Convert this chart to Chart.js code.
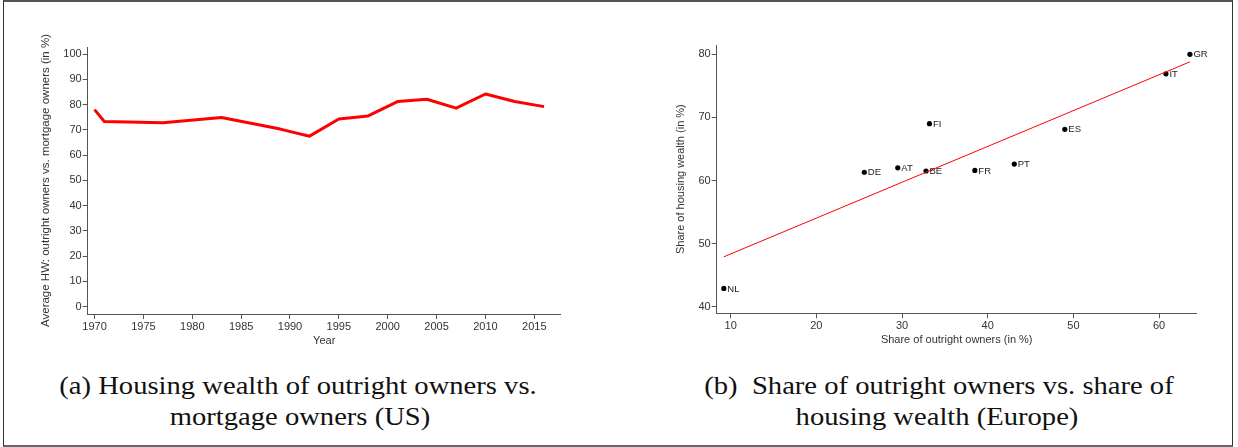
<!DOCTYPE html>
<html>
<head>
<meta charset="utf-8">
<script src="https://cdn.jsdelivr.net/npm/chart.js@4.4.1/dist/chart.umd.min.js"></script>
<style>
  html, body { margin: 0; padding: 0; background: #fff; }
  body { width: 1238px; height: 447px; position: relative; overflow: hidden; }
  #frame { position: absolute; left: 3px; top: 0; width: 1228px; height: 443px;
           border: 1px solid #333; border-top: 2px solid #555; border-bottom: 2px solid #666; }
  canvas { position: absolute; top: 0; }
  #left { left: 0; }
  #right { left: 620px; }
  .cap { position: absolute; font-family: "Liberation Serif", serif; font-size: 26px;
         color: #111; white-space: nowrap; transform: translateX(-50%) scaleX(1.1); line-height: 1; }
</style>
</head>
<body>
<div id="frame"></div>
<canvas id="left" width="610" height="360"></canvas>
<canvas id="right" width="618" height="360"></canvas>
<div class="cap" style="left:298px; top:373px;">(a) Housing wealth of outright owners vs.</div>
<div class="cap" style="left:300px; top:404px;">mortgage owners (US)</div>
<div class="cap" style="left:939px; top:373px;">(b)&nbsp; Share of outright owners vs. share of</div>
<div class="cap" style="left:937px; top:404px;">housing wealth (Europe)</div>
<script>
// (a) US: average HW outright vs mortgage owners
var years = [1970, 1971, 1977, 1983, 1989, 1992, 1995, 1998, 2001, 2004, 2007, 2010, 2013, 2016];
var hwRatio = [78.0, 73.3, 72.8, 74.9, 70.3, 67.5, 74.3, 75.5, 81.2, 82.1, 78.6, 84.2, 81.2, 79.2];
var yearTicks = [1970, 1975, 1980, 1985, 1990, 1995, 2000, 2005, 2010, 2015];
var ratioTicks = [0, 10, 20, 30, 40, 50, 60, 70, 80, 90, 100];

// (b) Europe: share of outright owners vs share of housing wealth
var countries = ['NL', 'DE', 'AT', 'BE', 'FI', 'FR', 'PT', 'ES', 'IT', 'GR'];
var outrightShare = [9.2, 25.6, 29.5, 32.8, 33.2, 38.5, 43.1, 49.0, 60.8, 63.6];
var wealthShare = [42.9, 61.3, 62.0, 61.5, 69.0, 61.6, 62.6, 68.1, 76.9, 80.0];
var fitX = [9.2, 63.6];
var fitY = [47.9, 78.8];
var shareTicksX = [10, 20, 30, 40, 50, 60];
var shareTicksY = [40, 50, 60, 70, 80];

var axisColor = '#555';
var tickFont = { family: 'Liberation Sans, Arial, sans-serif', size: 11 };

function fixTicks(list) {
    return function(scale) {
        scale.ticks = list.map(function(v) { return { value: v }; });
    };
}

function axis(min, max, list, title, fitSize, titleSize) {
    return {
        type: 'linear',
        min: min,
        max: max,
        afterBuildTicks: fixTicks(list),
        afterFit: function(scale) {
            if (scale.isHorizontal()) scale.height = fitSize;
            else scale.width = fitSize;
        },
        border: { display: true, color: axisColor, width: 1 },
        grid: { drawOnChartArea: false, drawTicks: true, tickLength: 5, color: axisColor },
        ticks: {
            color: '#333', font: tickFont, padding: 1, maxRotation: 0, autoSkip: false,
            callback: function(v) { return String(v); }
        },
        title: {
            display: true, text: title, color: '#333', padding: 0,
            font: { family: 'Liberation Sans, Arial, sans-serif', size: titleSize || 11 }
        }
    };
}

new Chart(document.getElementById('left'), {
    type: 'line',
    data: {
        datasets: [{
            data: years.map(function(y, i) { return { x: y, y: hwRatio[i] }; }),
            borderColor: '#ff0000',
            borderWidth: 3,
            pointRadius: 0,
            tension: 0,
            borderJoinStyle: 'round'
        }]
    },
    options: {
        responsive: false,
        animation: false,
        devicePixelRatio: 1,
        layout: { padding: { left: 39.4, top: 47, right: 49.3, bottom: 12.4 } },
        plugins: { legend: { display: false }, tooltip: { enabled: false } },
        scales: {
            x: axis(1969.3, 2017.7, yearTicks, 'Year', 33.6),
            y: axis(-2.9, 102.8, ratioTicks, 'Average HW: outright owners vs. mortgage owners (in %)', 48.3, 11.5)
        }
    }
});

// country codes next to the dots
var pointLabels = {
    id: 'pointLabels',
    afterDatasetsDraw: function(chart) {
        var meta = chart.getDatasetMeta(1);
        var ctx = chart.ctx;
        ctx.save();
        ctx.fillStyle = '#222';
        ctx.font = '9.5px Liberation Sans, Arial, sans-serif';
        ctx.textBaseline = 'middle';
        meta.data.forEach(function(pt, i) {
            ctx.fillText(countries[i], pt.x + 3.5, pt.y + 0.5);
        });
        ctx.restore();
    }
};

new Chart(document.getElementById('right'), {
    type: 'scatter',
    data: {
        datasets: [{
            type: 'line',
            data: fitX.map(function(x, i) { return { x: x, y: fitY[i] }; }),
            borderColor: '#ff0000',
            borderWidth: 1,
            pointRadius: 0
        }, {
            data: outrightShare.map(function(x, i) { return { x: x, y: wealthShare[i] }; }),
            backgroundColor: '#000',
            borderWidth: 0,
            pointRadius: 2.6
        }]
    },
    plugins: [pointLabels],
    options: {
        responsive: false,
        animation: false,
        devicePixelRatio: 1,
        layout: { padding: { left: 54.4, top: 45, right: 41.3, bottom: 13.1 } },
        plugins: { legend: { display: false }, tooltip: { enabled: false } },
        scales: {
            x: axis(8.37, 64.39, shareTicksX, 'Share of outright owners (in %)', 33.6),
            y: axis(38.95, 81.47, shareTicksY, 'Share of housing wealth (in %)', 42.3)
        }
    }
});
</script>
</body>
</html>
